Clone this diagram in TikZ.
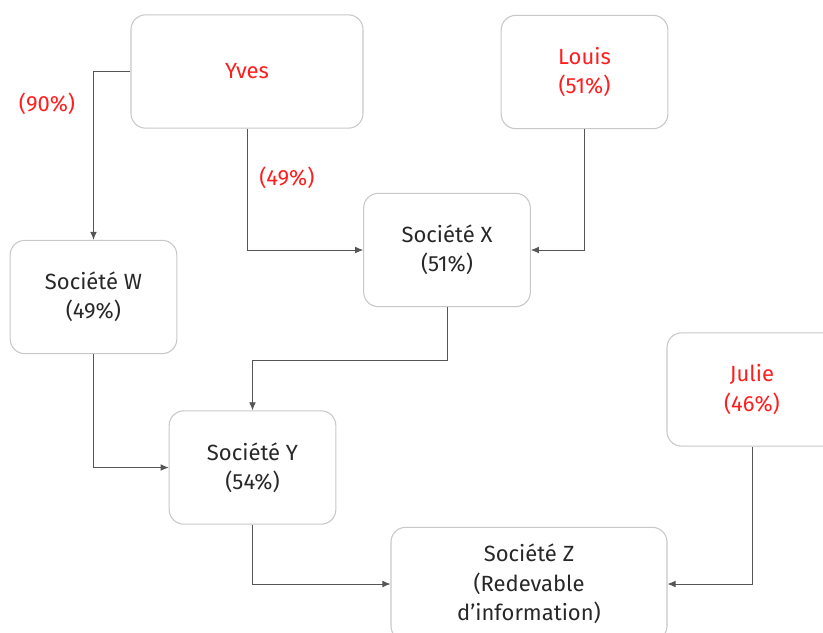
\documentclass[tikz,border=0pt]{standalone}
\usepackage{fontspec}
\setmainfont{Fira Sans}
\usepackage{tikz}
\usetikzlibrary{arrows.meta}

\definecolor{boxgray}{RGB}{200,200,200}
\definecolor{linegray}{RGB}{85,85,85}
\definecolor{ownred}{RGB}{255,30,30}
\definecolor{textgray}{RGB}{40,40,40}

\tikzset{
    box/.style={draw=boxgray, line width=0.8pt, rounded corners=11pt, fill=white,
        minimum width=125pt, minimum height=85pt, inner sep=0pt, align=center,
        text=textgray, font=\fontsize{16.5}{22}\selectfont},
    owner/.style={box, text=ownred},
    pct/.style={text=ownred, font=\fontsize{16.5}{22}\selectfont},
    link/.style={draw=linegray, line width=0.6pt, -{Latex[length=6pt,width=5pt]}}
}

\begin{document}
\begin{tikzpicture}[x=0.75pt, y=-0.75pt]
        \useasboundingbox (0,0) rectangle (823,632);

        % Define nodes
        \node[owner, minimum width=174pt] (Yves) at (247,71.5) {Yves};
        \node[owner] (Louis) at (584.5,72) {Louis\\(51\%)};
        \node[owner, minimum width=127.5pt] (Julie) at (752,389.5) {Julie\\(46\%)};

        \node[box] (X) at (447,250) {Société X\\(51\%)};
        \node[box] (W) at (93.5,297) {Société W\\(49\%)};
        \node[box] (Y) at (252.5,467.5) {Société Y\\(54\%)};
        \node[box, minimum width=207pt] (Z) at (529,584) {Société Z\\(Redevable\\d’information)};

        \node[pct] (p90) at (47,104) {(90\%)};
        \node[pct] (p49) at (287,178) {(49\%)};

        % Draw edges
        \draw[link] (Yves.west) -| (W.north);
        \draw[link] (Yves.south) |- (X.west);
        \draw[link] (Louis.south) |- (X.east);
        \draw[link] (X.south) -- ++(0,53) -| (Y.north);
        \draw[link] (W.south) |- (Y.west);
        \draw[link] (Y.south) |- (Z.west);
        \draw[link] (Julie.south) |- (Z.east);
    \end{tikzpicture}
\end{document}
